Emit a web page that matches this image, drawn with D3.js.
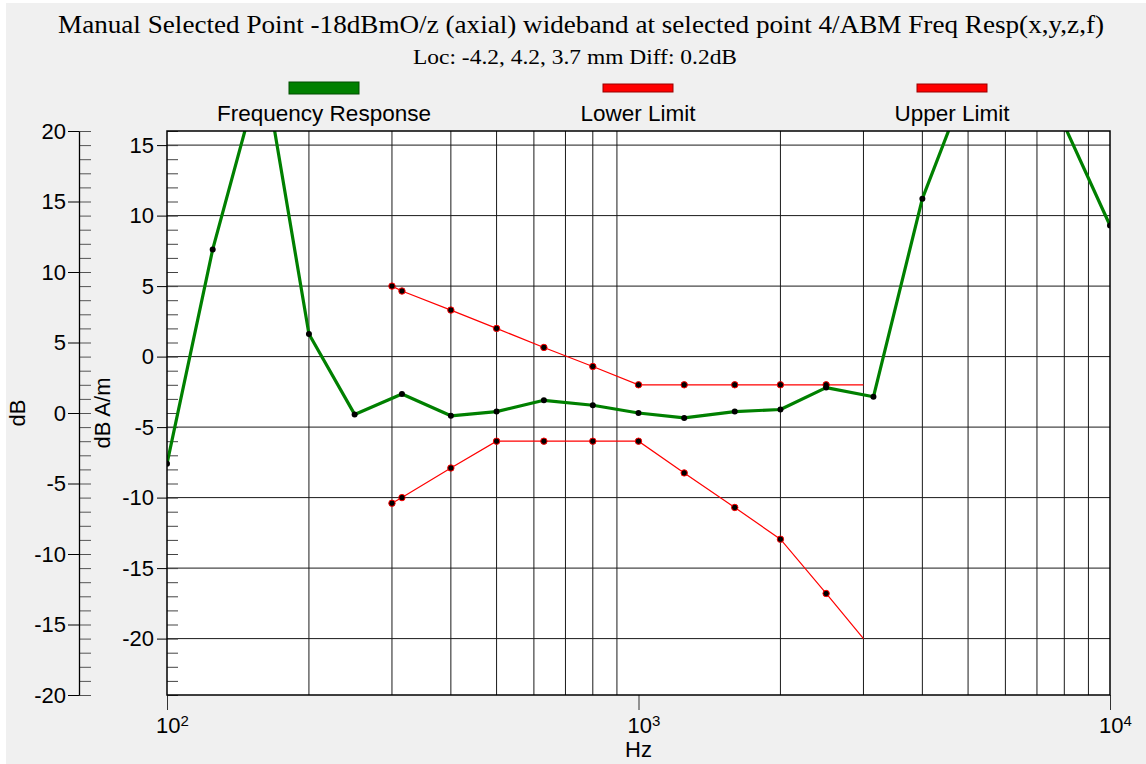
<!DOCTYPE html>
<html>
<head>
<meta charset="utf-8">
<script src="https://cdn.jsdelivr.net/npm/d3@7"></script>
<style>
  html, body { margin: 0; padding: 0; background: #ffffff; }
  svg { display: block; }
</style>
</head>
<body>
<svg id="chart" width="1146" height="764"></svg>
<script>
// ---------------- data ----------------
const titleText = "Manual Selected Point -18dBmO/z (axial) wideband at selected point 4/ABM Freq Resp(x,y,z,f)";
const subtitleText = "Loc: -4.2, 4.2, 3.7 mm Diff: 0.2dB";
const seriesNames = ["Frequency Response", "Lower Limit", "Upper Limit"];

const respFreqs  = [100, 125, 160, 200, 250, 315, 400, 500, 630, 800, 1000, 1250, 1600, 2000, 2500, 3150, 4000, 5000, 6300, 8000, 10000];
const respValues = [-7.6, 7.6, 20.8, 1.6, -4.1, -2.65, -4.2, -3.9, -3.1, -3.45, -4.0, -4.35, -3.9, -3.75, -2.2, -2.85, 11.2, 19.6, 22.0, 16.4, 9.3];

const limitFreqs  = [300, 315, 400, 500, 630, 800, 1000, 1250, 1600, 2000, 2500, 3000];
const upperValues = [5.0, 4.65, 3.3, 2.0, 0.65, -0.7, -2.0, -2.0, -2.0, -2.0, -2.0, -2.0];
const lowerValues = [-10.4, -10.0, -7.9, -6.0, -6.0, -6.0, -6.0, -8.25, -10.7, -12.95, -16.8, -20.0];

const innerMajorTicks = [-20, -15, -10, -5, 0, 5, 10, 15];
const outerMajorTicks = [-20, -15, -10, -5, 0, 5, 10, 15, 20];
const xDecadeTicks = [100, 1000, 10000];
const xDecadeExponents = ["2", "3", "4"];
const xMinorTicks = [200, 300, 400, 500, 600, 700, 800, 900, 2000, 3000, 4000, 5000, 6000, 7000, 8000, 9000];

// ---------------- layout ----------------
const plot = { left: 167, right: 1110, top: 131, bottom: 695 };
const sans = "'Liberation Sans', Arial, sans-serif";
const serif = "'Liberation Serif', 'Times New Roman', serif";
const green = "#008000", red = "#ff0000";
const fmt = d => String(d);

const svg = d3.select("#chart");
svg.append("rect").attr("x", 6).attr("y", 3).attr("width", 1140).attr("height", 761).attr("fill", "#f0f0f0");

const x = d3.scaleLog().domain([100, 10000]).range([plot.left, plot.right]);
const yIn = d3.scaleLinear().domain([-24, 16]).range([plot.bottom, plot.top]);
const yOut = d3.scaleLinear().domain([-20, 20]).range([plot.bottom, plot.top]);

// plot background
svg.append("rect").attr("x", plot.left).attr("y", plot.top)
  .attr("width", plot.right - plot.left).attr("height", plot.bottom - plot.top)
  .attr("fill", "#ffffff");

// grid
const grid = svg.append("g");
grid.selectAll("line.v").data(xMinorTicks).join("line")
  .attr("x1", d => x(d)).attr("x2", d => x(d))
  .attr("y1", plot.top).attr("y2", plot.bottom)
  .attr("stroke", "#1a1a1a").attr("stroke-width", 1);
grid.selectAll("line.h").data(innerMajorTicks).join("line")
  .attr("x1", plot.left).attr("x2", plot.right)
  .attr("y1", d => yIn(d)).attr("y2", d => yIn(d))
  .attr("stroke", "#1a1a1a").attr("stroke-width", 1);

// inner axis (dB A/m)
const innerMinor = svg.append("g").attr("transform", `translate(${plot.left},0)`)
  .call(d3.axisRight(yIn).tickValues(d3.range(-24, 17)).tickSize(11).tickFormat(""));
innerMinor.select(".domain").remove();
innerMinor.selectAll("line").attr("stroke", "#444");

const innerAxis = svg.append("g").attr("transform", `translate(${plot.left},0)`)
  .call(d3.axisLeft(yIn).tickValues(innerMajorTicks).tickSize(10).tickPadding(3).tickFormat(fmt));
innerAxis.select(".domain").remove();
innerAxis.selectAll("line").attr("stroke", "#000");
innerAxis.selectAll("text").attr("font-family", sans).attr("font-size", 22).attr("fill", "#000");

// outer axis (dB)
const outerX = 79;
const outerMinor = svg.append("g").attr("transform", `translate(${outerX},0)`)
  .call(d3.axisRight(yOut).tickValues(d3.range(-20, 21)).tickSize(12).tickFormat(""));
outerMinor.select(".domain").remove();
outerMinor.selectAll("line").attr("stroke", "#555");

const outerAxis = svg.append("g").attr("transform", `translate(${outerX},0)`)
  .call(d3.axisLeft(yOut).tickValues(outerMajorTicks).tickSize(11).tickSizeOuter(0).tickPadding(2).tickFormat(fmt));
outerAxis.select(".domain").attr("stroke", "#000").attr("stroke-width", 1.3);
outerAxis.selectAll("line").attr("stroke", "#000");
outerAxis.selectAll("text").attr("font-family", sans).attr("font-size", 22).attr("fill", "#000");

// x axis
const xAxis = svg.append("g").attr("transform", `translate(0,${plot.bottom})`)
  .call(d3.axisBottom(x).tickValues(xDecadeTicks).tickSize(15).tickFormat(""));
xAxis.select(".domain").remove();
xAxis.selectAll("line").attr("stroke", "#333");
const xl = svg.append("g");
xDecadeTicks.forEach((d, i) => {
  const t = xl.append("text").attr("x", x(d) - 11).attr("y", 733)
    .attr("font-family", sans).attr("font-size", 22).attr("fill", "#000");
  t.append("tspan").text("10");
  t.append("tspan").attr("font-size", 15).attr("dy", -7).text(xDecadeExponents[i]);
});

// axis titles
svg.append("text").attr("x", x(1000)).attr("y", 757).attr("text-anchor", "middle")
  .attr("font-family", sans).attr("font-size", 22).text("Hz");
svg.append("text").attr("transform", `translate(25,${(plot.top + plot.bottom) / 2}) rotate(-90)`)
  .attr("text-anchor", "middle").attr("font-family", sans).attr("font-size", 22).text("dB");
svg.append("text").attr("transform", `translate(110,${(plot.top + plot.bottom) / 2}) rotate(-90)`)
  .attr("text-anchor", "middle").attr("font-family", sans).attr("font-size", 22).text("dB A/m");

// clip for data
svg.append("clipPath").attr("id", "clip").append("rect")
  .attr("x", plot.left).attr("y", plot.top)
  .attr("width", plot.right - plot.left).attr("height", plot.bottom - plot.top);
const data = svg.append("g").attr("clip-path", "url(#clip)");

const line = d3.line().x(d => x(d[0])).y(d => yIn(d[1]));
const upper = limitFreqs.map((f, i) => [f, upperValues[i]]);
const lower = limitFreqs.map((f, i) => [f, lowerValues[i]]);
const resp = respFreqs.map((f, i) => [f, respValues[i]]);

[upper, lower].forEach(s => {
  data.append("path").attr("d", line(s)).attr("fill", "none").attr("stroke", red).attr("stroke-width", 1.2);
  data.selectAll(null).data(s.slice(0, -1)).join("circle")
    .attr("cx", d => x(d[0])).attr("cy", d => yIn(d[1])).attr("r", 3.2)
    .attr("fill", "#000").attr("stroke", red).attr("stroke-width", 1);
});

data.append("path").attr("d", line(resp)).attr("fill", "none").attr("stroke", green)
  .attr("stroke-width", 3.2).attr("stroke-linejoin", "round");
data.selectAll(null).data(resp).join("circle")
  .attr("cx", d => x(d[0])).attr("cy", d => yIn(d[1])).attr("r", 3)
  .attr("fill", "#000");

// plot border
svg.append("rect").attr("x", plot.left).attr("y", plot.top)
  .attr("width", plot.right - plot.left).attr("height", plot.bottom - plot.top)
  .attr("fill", "none").attr("stroke", "#000").attr("stroke-width", 1.5);

// titles
svg.append("text").attr("x", 581).attr("y", 33).attr("text-anchor", "middle")
  .attr("font-family", serif).attr("font-size", 26)
  .attr("textLength", 1046).attr("lengthAdjust", "spacingAndGlyphs").text(titleText);
svg.append("text").attr("x", 575).attr("y", 64).attr("text-anchor", "middle")
  .attr("font-family", serif).attr("font-size", 20)
  .attr("textLength", 324).attr("lengthAdjust", "spacingAndGlyphs").text(subtitleText);

// legend
const legendCenters = [324, 638, 952];
const legendColors = [green, red, red];
const legendStroke = ["#004d00", "#990000", "#990000"];
const legendHeights = [12, 8];
seriesNames.forEach((name, i) => {
  const h = i === 0 ? legendHeights[0] : legendHeights[1];
  svg.append("rect").attr("x", legendCenters[i] - 35).attr("y", 88 - h / 2)
    .attr("width", 70).attr("height", h)
    .attr("fill", legendColors[i]).attr("stroke", legendStroke[i]).attr("stroke-width", 1);
  svg.append("text").attr("x", legendCenters[i]).attr("y", 121).attr("text-anchor", "middle")
    .attr("font-family", sans).attr("font-size", 22.5).text(name);
});
</script>
</body>
</html>
